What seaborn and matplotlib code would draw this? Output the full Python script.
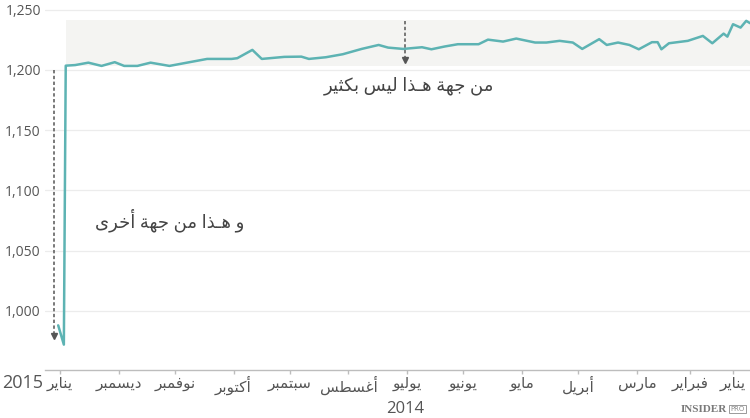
import pandas as pd
import seaborn as sns
import matplotlib
import matplotlib.pyplot as plt
matplotlib.use('Agg')

# Weekly price readings (latest first)
dates = ['2015-01-02', '2014-12-30', '2014-12-29', '2014-12-24', '2014-12-17', '2014-12-10',
         '2014-12-03', '2014-11-28', '2014-11-21', '2014-11-14', '2014-11-04', '2014-10-25',
         '2014-10-15', '2014-10-02', '2014-09-29', '2014-09-21', '2014-09-16', '2014-09-04',
         '2014-08-26', '2014-08-22', '2014-08-13', '2014-08-04', '2014-07-25', '2014-07-16',
         '2014-07-11', '2014-07-03', '2014-06-23', '2014-06-18', '2014-06-11', '2014-06-04',
         '2014-05-24', '2014-05-19', '2014-05-11', '2014-05-04', '2014-04-24', '2014-04-18',
         '2014-04-11', '2014-04-04', '2014-03-30', '2014-03-21', '2014-03-17', '2014-03-11',
         '2014-03-05', '2014-02-28', '2014-02-21', '2014-02-18', '2014-02-16', '2014-02-12',
         '2014-02-02', '2014-01-25', '2014-01-20', '2014-01-14', '2014-01-12', '2014-01-09',
         '2014-01-05', '2014-01-02', '2013-12-31']
values = [988, 972, 1203.5, 1204, 1206, 1203.3,
          1206.4, 1203.3, 1203.3, 1206, 1203.3, 1206.2,
          1209.1, 1209.1, 1209.7, 1216.6, 1209.1, 1210.8,
          1211, 1209.1, 1210.5, 1213, 1217.4, 1220.7,
          1218.5, 1217.4, 1218.8, 1217.1, 1219.4, 1221.3,
          1221.3, 1225.1, 1223.5, 1226, 1222.7, 1222.7,
          1224.1, 1222.7, 1217.4, 1225.5, 1220.7, 1222.7,
          1220.7, 1217.1, 1223, 1223, 1217.1, 1222.1,
          1224.1, 1228.2, 1222.1, 1230.1, 1227.6, 1237.9,
          1235.1, 1240.7, 1238.8]

month_ticks = ['2015-01-01', '2014-12-01', '2014-11-01', '2014-10-01', '2014-09-01',
               '2014-08-01', '2014-07-01', '2014-06-01', '2014-05-01', '2014-04-01',
               '2014-03-01', '2014-02-01', '2014-01-09']
month_labels = ['يناير', 'ديسمبر', 'نوفمبر', 'أكتوبر', 'سبتمبر', 'أغسطس', 'يوليو',
                'يونيو', 'مايو', 'أبريل', 'مارس', 'فبراير', 'يناير']
y_ticks = [1000, 1050, 1100, 1150, 1200, 1250]

# shaded "range" band
band_dates = ['2014-12-29', '2013-12-31']
band_low = 1203.5
band_high = 1241

note_small = 'من جهة هـذا ليس بكثير'
note_big = 'و هـذا من جهة أخرى'

# Arabic presentation forms: (isolated, final, initial, medial)
AR_FORMS = {
    'ا': ('\ufe8d', '\ufe8e', None, None),
    'أ': ('\ufe83', '\ufe84', None, None),
    'ب': ('\ufe8f', '\ufe90', '\ufe91', '\ufe92'),
    'ة': ('\ufe93', '\ufe94', None, None),
    'ت': ('\ufe95', '\ufe96', '\ufe97', '\ufe98'),
    'ث': ('\ufe99', '\ufe9a', '\ufe9b', '\ufe9c'),
    'ج': ('\ufe9d', '\ufe9e', '\ufe9f', '\ufea0'),
    'خ': ('\ufea5', '\ufea6', '\ufea7', '\ufea8'),
    'د': ('\ufea9', '\ufeaa', None, None),
    'ذ': ('\ufeab', '\ufeac', None, None),
    'ر': ('\ufead', '\ufeae', None, None),
    'س': ('\ufeb1', '\ufeb2', '\ufeb3', '\ufeb4'),
    'ط': ('\ufec1', '\ufec2', '\ufec3', '\ufec4'),
    'غ': ('\ufecd', '\ufece', '\ufecf', '\ufed0'),
    'ف': ('\ufed1', '\ufed2', '\ufed3', '\ufed4'),
    'ك': ('\ufed9', '\ufeda', '\ufedb', '\ufedc'),
    'ل': ('\ufedd', '\ufede', '\ufedf', '\ufee0'),
    'م': ('\ufee1', '\ufee2', '\ufee3', '\ufee4'),
    'ن': ('\ufee5', '\ufee6', '\ufee7', '\ufee8'),
    'ه': ('\ufee9', '\ufeea', '\ufeeb', '\ufeec'),
    'و': ('\ufeed', '\ufeee', None, None),
    'ى': ('\ufeef', '\ufef0', None, None),
    'ي': ('\ufef1', '\ufef2', '\ufef3', '\ufef4'),
    'ـ': ('ـ', 'ـ', 'ـ', 'ـ'),
}


def shape(text):
    # matplotlib has no Arabic shaping: pick joined forms and reverse to visual order
    out = []
    for i, ch in enumerate(text):
        forms = AR_FORMS.get(ch)
        if forms is None:
            out.append(ch)
            continue
        prev = AR_FORMS.get(text[i - 1]) if i > 0 else None
        nxt = AR_FORMS.get(text[i + 1]) if i + 1 < len(text) else None
        join_prev = prev is not None and prev[2] is not None
        join_next = nxt is not None and forms[2] is not None
        if join_prev and join_next:
            out.append(forms[3])
        elif join_prev:
            out.append(forms[1])
        elif join_next:
            out.append(forms[2])
        else:
            out.append(forms[0])
    return ''.join(reversed(out))


sns.set_theme(style='white')
plt.rcParams['font.family'] = ['Open Sans', 'DejaVu Sans']

df = pd.DataFrame({'date': pd.to_datetime(dates), 'value': values})

fig = plt.figure(figsize=(7.5, 4.18), dpi=100)
ax = fig.add_axes([0.06, 0.115, 0.94, 0.885])

bd = pd.to_datetime(band_dates)
ax.fill_between(bd, band_low, band_high, color='#f4f4f2', lw=0, zorder=0)

sns.lineplot(data=df, x='date', y='value', ax=ax, color='#5db3b3', lw=1.8, zorder=3)

# dashed arrows
dash = (0, (2.2, 1.6))
a1 = pd.Timestamp('2014-07-02')
ax.plot([a1, a1], [1240.5, 1208.5], color='#555555', lw=1.1, ls=dash, zorder=4)
ax.plot([a1], [1208], marker='v', ms=4.5, color='#555555', zorder=4)
a2 = pd.Timestamp('2015-01-04')
ax.plot([a2, a2], [1200, 980], color='#555555', lw=1.1, ls=dash, zorder=4)
ax.plot([a2], [979.5], marker='v', ms=4.5, color='#555555', zorder=4)

ax.text(pd.Timestamp('2014-06-30'), 1187, shape(note_small), ha='center', va='center',
        fontsize=13, color='#444444')
ax.text(pd.Timestamp('2014-11-04'), 1075, shape(note_big), ha='center', va='center',
        fontsize=13, color='#444444')

ax.set_xlim(pd.Timestamp('2015-01-09'), pd.Timestamp('2013-12-31'))
ax.set_ylim(951, 1258)
ax.set_yticks(y_ticks)
ax.set_yticklabels([f'{v:,}' for v in y_ticks])
ax.set_xticks(pd.to_datetime(month_ticks))
ax.set_xticklabels([shape(m) for m in month_labels])
ax.set_xlabel('')
ax.set_ylabel('')

ax.yaxis.grid(True, color='#ececec', lw=0.9)
ax.set_axisbelow(True)
for side in ['left', 'right', 'top']:
    ax.spines[side].set_visible(False)
ax.spines['bottom'].set_color('#bdbdbd')
ax.spines['bottom'].set_linewidth(1)
ax.tick_params(axis='y', length=0, labelsize=10, labelcolor='#555555', pad=3)
ax.tick_params(axis='x', bottom=True, length=3, width=1, color='#bdbdbd',
               labelsize=11, labelcolor='#555555', pad=2)

fig.text(0.003, 1 - 383 / 418, '2015', ha='left', va='center', fontsize=13, color='#555555')
fig.text(405 / 750, 1 - 409 / 418, '2014', ha='center', va='center', fontsize=12, color='#555555')

# logo
fig.text(727 / 750, 1 - 410 / 418, 'INSIDER', ha='right', va='center', fontsize=8,
         fontweight='bold', family='Liberation Serif', color='#7a7a7a')
fig.text(730 / 750, 1 - 409 / 418, 'PRO', ha='left', va='center', fontsize=5,
         family='DejaVu Sans', color='#8a8a8a',
         bbox=dict(boxstyle='square,pad=0.2', fc='white', ec='#8a8a8a', lw=0.6))

plt.savefig('out.png', dpi=100)
